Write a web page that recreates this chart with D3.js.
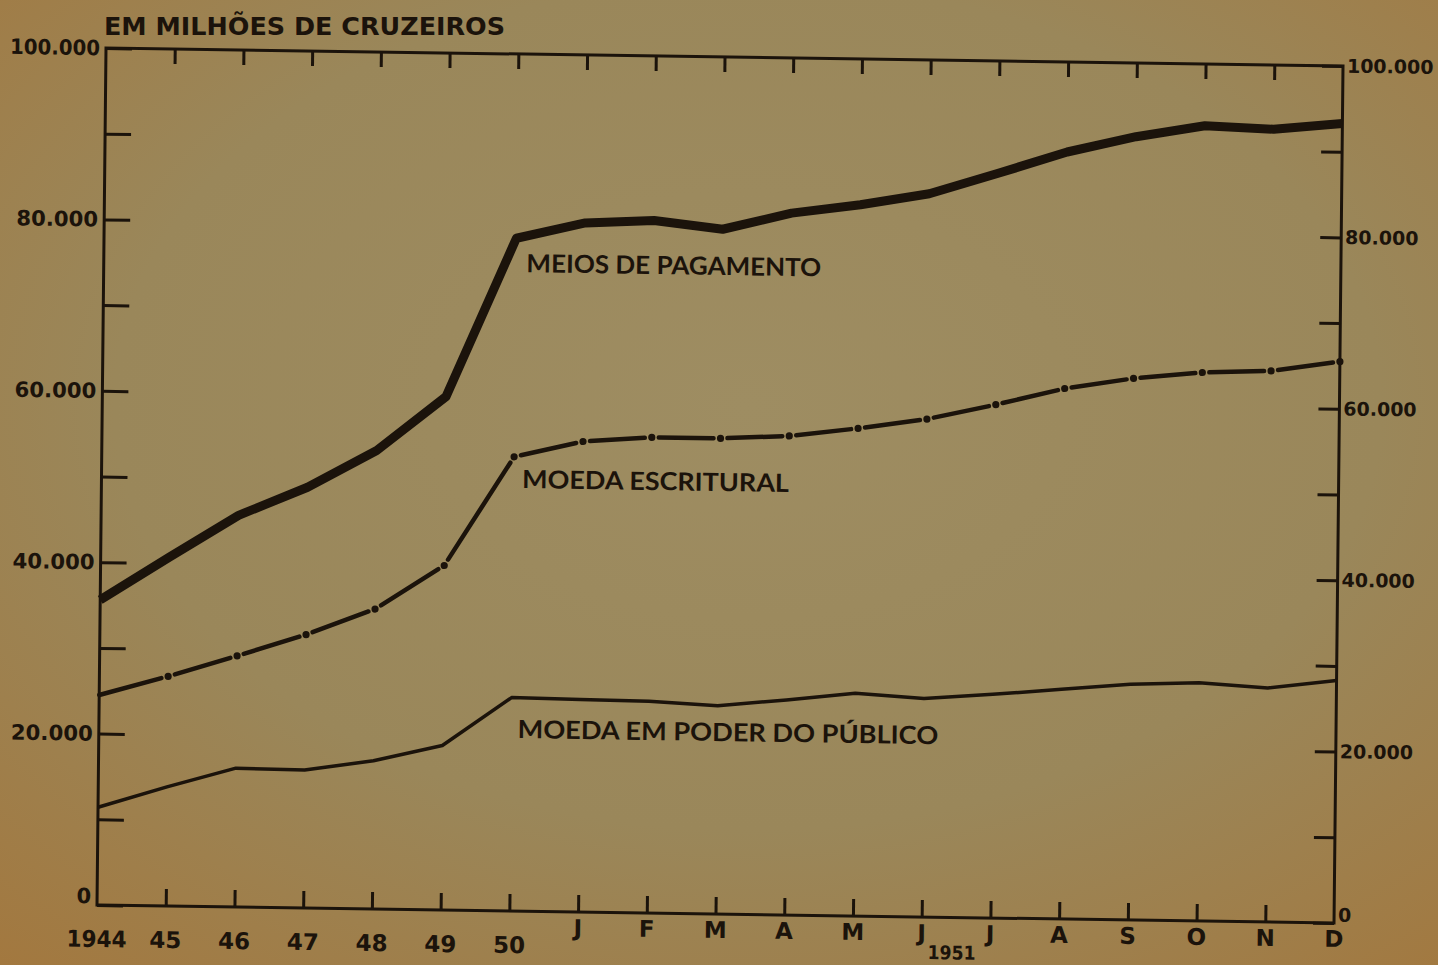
<!DOCTYPE html>
<html>
<head>
<meta charset="utf-8">
<script src="https://cdn.jsdelivr.net/npm/d3@7/dist/d3.min.js"></script>
<style>
  html, body { margin: 0; padding: 0; background: #9c8a5d; }
  svg { display: block; }
</style>
</head>
<body>
<svg id="chart" width="1438" height="965"></svg>
<script>
// ---- DATA (em milhões de cruzeiros) ----
const yearCats  = ["1944", "45", "46", "47", "48", "49", "50"];
const monthCats = ["J", "F", "M", "A", "M", "J", "J", "A", "S", "O", "N", "D"];
const monthYear = "1951";
const meiosDePagamento = [35600, 40700, 45700, 49100, 53500, 59900, 78500,
  80400, 80800, 79900, 81900, 83000, 84400, 86900, 89500, 91400, 92800, 92500, 93300];
const moedaEscritural = [24500, 26800, 29300, 31900, 35000, 40200, 53000,
  54900, 55500, 55500, 55900, 56900, 58100, 59900, 61900, 63200, 64000, 64300, 65500];
const moedaPublico = [11400, 13900, 16200, 16100, 17300, 19200, 24900,
  24800, 24700, 24300, 25100, 26000, 25500, 26100, 26800, 27500, 27800, 27300, 28300];
const yTickValues = [0, 20000, 40000, 60000, 80000, 100000];
const yMinorValues = [10000, 30000, 50000, 70000, 90000];
const titleText = "EM MILHÕES DE CRUZEIROS";
const seriesNames = ["MEIOS DE PAGAMENTO", "MOEDA ESCRITURAL", "MOEDA EM PODER DO PÚBLICO"];

const categories = yearCats.concat(monthCats);
const idx = d3.range(categories.length);

// ---- LAYOUT ----
const W = 1238, H = 857;
const ink = "#1b130b";
const svg = d3.select("#chart");

const defs = svg.append("defs");
const grad = defs.append("radialGradient").attr("id", "paper")
  .attr("cx", "52%").attr("cy", "42%").attr("r", "80%");
grad.append("stop").attr("offset", "0%").attr("stop-color", "#9e8d62");
grad.append("stop").attr("offset", "55%").attr("stop-color", "#9a875a");
grad.append("stop").attr("offset", "100%").attr("stop-color", "#a3773d");
svg.append("rect").attr("width", 1438).attr("height", 965).attr("fill", "url(#paper)");

// title
svg.append("text").text(titleText)
  .attr("x", 104).attr("y", 35)
  .attr("font-family", "DejaVu Sans").attr("font-weight", "bold")
  .attr("font-size", 25).attr("fill", ink)
  .attr("textLength", 401).attr("lengthAdjust", "spacingAndGlyphs");

// plot group, slightly skewed like the printed scan
const g = svg.append("g")
  .attr("transform", "matrix(0.9992,0.01454,-0.0105,1,106,48)");

const x = d3.scalePoint().domain(idx).range([0, W]);
const y = d3.scaleLinear().domain([0, 100000]).range([H, 0]);

const loc = d3.formatLocale({ decimal: ",", thousands: ".", grouping: [3], currency: ["", ""] });
const fmt = loc.format(",");

// frame
g.append("path")
  .attr("d", `M0,0H${W}V${H}H0Z`)
  .attr("fill", "none").attr("stroke", ink).attr("stroke-width", 3);

function styleAxis(sel, size) {
  sel.select(".domain").remove();
  sel.selectAll(".tick line").attr("stroke", ink).attr("stroke-width", 3);
  sel.selectAll("text").attr("fill", ink)
    .attr("font-family", "DejaVu Sans").attr("font-weight", "bold")
    .attr("font-size", size);
}

// left axis
const yl = g.append("g").call(
  d3.axisLeft(y).tickValues(yTickValues.concat(yMinorValues)).tickSize(-26).tickPadding(6)
    .tickFormat(d => yTickValues.includes(d) ? fmt(d) : ""));
styleAxis(yl, 21);
yl.selectAll("text").filter(d => d === 0).attr("dy", "-0.1em");
yl.selectAll("text").filter(d => d !== 0)
  .attr("textLength", d => fmt(d).length === 7 ? 90 : 82)
  .attr("lengthAdjust", "spacingAndGlyphs");

// right axis
const yr = g.append("g").attr("transform", `translate(${W},0)`).call(
  d3.axisRight(y).tickValues(yTickValues.concat(yMinorValues)).tickSize(-21).tickPadding(4)
    .tickFormat(d => yTickValues.includes(d) ? fmt(d) : ""));
styleAxis(yr, 19);
yr.selectAll("text").filter(d => d === 0).attr("dy", "-0.1em");

// bottom & top ticks
const inner = idx.slice(1, idx.length - 1);
const xb = g.append("g").attr("transform", `translate(0,${H})`).call(
  d3.axisBottom(x).tickValues(inner).tickSize(-17).tickFormat(""));
styleAxis(xb, 22);
const xt = g.append("g").call(
  d3.axisTop(x).tickValues(inner).tickSize(-15).tickFormat(""));
styleAxis(xt, 22);

// x labels
g.append("g").selectAll("text").data(idx).join("text")
  .text(i => categories[i])
  .attr("x", i => x(i))
  .attr("y", i => i < yearCats.length ? H + 42 : H + 24)
  .attr("text-anchor", "middle")
  .attr("font-family", "DejaVu Sans").attr("font-weight", "bold")
  .attr("font-size", 23).attr("fill", ink)
  .attr("textLength", i => categories[i].length === 4 ? 60 : null)
  .attr("lengthAdjust", "spacingAndGlyphs");

const jIdx = yearCats.length + 5;
g.append("text").text(monthYear)
  .attr("x", (x(jIdx) + x(jIdx + 1)) / 2 - 4)
  .attr("y", H + 42)
  .attr("text-anchor", "middle")
  .attr("font-family", "DejaVu Sans").attr("font-weight", "bold")
  .attr("font-size", 19).attr("fill", ink)
  .attr("textLength", 48).attr("lengthAdjust", "spacingAndGlyphs");

// series
const line = d3.line().x((d, i) => x(i)).y(d => y(d)).curve(d3.curveLinear);

g.append("path").datum(moedaPublico).attr("d", line)
  .attr("fill", "none").attr("stroke", ink).attr("stroke-width", 3.5)
  .attr("stroke-linejoin", "round");

g.append("path").datum(meiosDePagamento).attr("d", line)
  .attr("fill", "none").attr("stroke", ink).attr("stroke-width", 9)
  .attr("stroke-linejoin", "round");

// dash-dot: a dash on every segment, a dot on every point
const pts = moedaEscritural.map((v, i) => [x(i), y(v)]);
const gap = 7;
const segs = d3.pairs(pts).map(([a, b]) => {
  const dx = b[0] - a[0], dy = b[1] - a[1], L = Math.hypot(dx, dy);
  const ux = dx / L, uy = dy / L;
  const s0 = a === pts[0] ? 0 : gap;
  return [a[0] + ux * s0, a[1] + uy * s0, b[0] - ux * gap, b[1] - uy * gap];
});
const esc = g.append("g");
esc.selectAll("line").data(segs).join("line")
  .attr("x1", d => d[0]).attr("y1", d => d[1])
  .attr("x2", d => d[2]).attr("y2", d => d[3])
  .attr("stroke", ink).attr("stroke-width", 4.5).attr("stroke-linecap", "round");
esc.selectAll("circle").data(pts.slice(1)).join("circle")
  .attr("cx", d => d[0]).attr("cy", d => d[1]).attr("r", 3.6).attr("fill", ink);

// series labels
const lab = [
  { t: seriesNames[0], x: 423, y: 218, w: 295 },
  { t: seriesNames[1], x: 421, y: 434, w: 267 },
  { t: seriesNames[2], x: 419, y: 684, w: 421 }
];
g.append("g").selectAll("text").data(lab).join("text")
  .text(d => d.t).attr("x", d => d.x).attr("y", d => d.y)
  .attr("font-family", "Lato").attr("font-weight", "bold")
  .attr("font-size", 25).attr("fill", ink)
  .attr("textLength", d => d.w).attr("lengthAdjust", "spacingAndGlyphs");
</script>
</body>
</html>
